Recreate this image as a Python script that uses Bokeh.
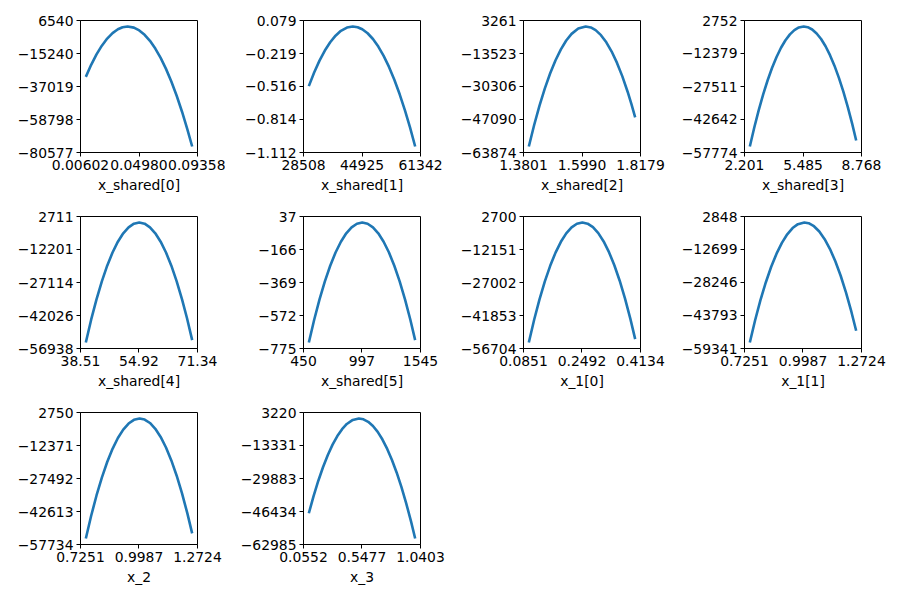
from bokeh.plotting import figure
from bokeh.models import Range1d, FixedTicker
from bokeh.layouts import column, row
from bokeh.embed import file_html
from bokeh.resources import INLINE

M = "\u2212"

axis_titles = ["x_shared[0]", "x_shared[1]", "x_shared[2]", "x_shared[3]",
               "x_shared[4]", "x_shared[5]", "x_1[0]", "x_1[1]", "x_2", "x_3"]

xtick_labels = [
    ["0.00602", "0.04980", "0.09358"],
    ["28508", "44925", "61342"],
    ["1.3801", "1.5990", "1.8179"],
    ["2.201", "5.485", "8.768"],
    ["38.51", "54.92", "71.34"],
    ["450", "997", "1545"],
    ["0.0851", "0.2492", "0.4134"],
    ["0.7251", "0.9987", "1.2724"],
    ["0.7251", "0.9987", "1.2724"],
    ["0.0552", "0.5477", "1.0403"],
]

ytick_labels = [
    ["6540", M + "15240", M + "37019", M + "58798", M + "80577"],
    ["0.079", M + "0.219", M + "0.516", M + "0.814", M + "1.112"],
    ["3261", M + "13523", M + "30306", M + "47090", M + "63874"],
    ["2752", M + "12379", M + "27511", M + "42642", M + "57774"],
    ["2711", M + "12201", M + "27114", M + "42026", M + "56938"],
    ["37", M + "166", M + "369", M + "572", M + "775"],
    ["2700", M + "12151", M + "27002", M + "41853", M + "56704"],
    ["2848", M + "12699", M + "28246", M + "43793", M + "59341"],
    ["2750", M + "12371", M + "27492", M + "42613", M + "57734"],
    ["3220", M + "13331", M + "29883", M + "46434", M + "62985"],
]

x_shared0 = [0.010, 0.014, 0.018, 0.022, 0.026, 0.030, 0.034, 0.0375, 0.0413, 0.046, 0.050,
             0.054, 0.058, 0.062, 0.066, 0.070, 0.074, 0.078, 0.082, 0.086, 0.0896]
y_shared0 = [-30681, -22723, -15851, -10066, -5368, -1755, 771, 2090, 2580, 1830, 10,
             -2896, -6888, -11968, -18133, -25385, -33723, -43147, -53658, -65256, -76617]

x_shared1 = [30000, 31500, 33000, 34500, 36000, 37500, 39000, 40700, 42341, 43700, 45000,
             46500, 48000, 49500, 51000, 52500, 54000, 55500, 57000, 58400, 59850]
y_shared1 = [-0.513, -0.390, -0.283, -0.192, -0.117, -0.058, -0.014, 0.0155, 0.025, 0.0185, 0.000,
             -0.036, -0.088, -0.156, -0.240, -0.340, -0.455, -0.587, -0.734, -0.886, -1.058]

x_shared2 = [1.400, 1.420, 1.440, 1.460, 1.480, 1.500, 1.520, 1.540, 1.560, 1.585, 1.6128,
             1.632, 1.650, 1.670, 1.690, 1.710, 1.730, 1.750, 1.770, 1.784, 1.798]
y_shared2 = [-60823, -49890, -40035, -31259, -23560, -16939, -11397, -6933, -3547, -832, 210,
             -287, -1655, -4200, -7823, -12524, -18303, -25161, -33097, -39293, -46018]

x_shared3 = [2.5, 2.75, 3.0, 3.25, 3.5, 3.75, 4.0, 4.25, 4.5, 4.75, 5.0, 5.25, 5.523,
             5.75, 6.0, 6.25, 6.5, 6.75, 7.0, 7.25, 7.5, 7.75, 8.0, 8.25, 8.47]
y_shared3 = [-55023, -46302, -38329, -31110, -24643, -18928, -13967, -9758, -6302, -3598, -1647, -449, 0,
             -310, -1370, -3182, -5748, -9065, -13136, -17959, -23535, -29863, -36944, -44778, -52295]

x_shared4 = [40, 41.5, 43, 44.5, 46, 47.5, 49, 50.5, 52, 53.5, 55,
             56.5, 58, 59.5, 61, 62.5, 64, 65.5, 67, 68.4, 69.85]
y_shared4 = [-54227, -43922, -34704, -26570, -19521, -13556, -8676, -4880, -2169, -542, 0,
             -542, -2169, -4880, -8676, -13556, -19521, -26570, -34704, -43274, -53146]

x_shared5 = [500, 550, 600, 650, 700, 750, 800, 850, 900, 950, 1000,
             1050, 1100, 1150, 1200, 1250, 1300, 1350, 1400, 1450, 1495]
y_shared5 = [-738.1, -597.9, -472.4, -361.7, -265.7, -184.5, -118.1, -66.4, -29.5, -7.4, 0,
             -7.4, -29.5, -66.4, -118.1, -184.5, -265.7, -361.7, -472.4, -597.9, -723.4]

x_1_0 = [0.100, 0.115, 0.130, 0.145, 0.160, 0.175, 0.190, 0.205, 0.220, 0.235, 0.2503,
         0.265, 0.280, 0.295, 0.310, 0.325, 0.340, 0.355, 0.370, 0.385, 0.3985]
y_1_0 = [-54004, -43757, -34592, -26504, -19491, -13553, -8691, -4905, -2195, -560, 0,
         -517, -2108, -4776, -8519, -13338, -19232, -26203, -34248, -43370, -52499]

x_1_1 = [0.75, 0.775, 0.80, 0.825, 0.85, 0.875, 0.90, 0.925, 0.95, 0.975, 1.005,
         1.025, 1.05, 1.075, 1.10, 1.125, 1.15, 1.175, 1.20, 1.225, 1.2475]
y_1_1 = [-56514, -45911, -36468, -28111, -20839, -14653, -9552, -5536, -2606, -760, 21,
         -326, -1737, -4234, -7815, -12482, -18234, -25072, -32995, -42003, -50965]

x_2 = [0.75, 0.775, 0.80, 0.825, 0.85, 0.875, 0.90, 0.925, 0.95, 0.975, 1.0014,
       1.025, 1.05, 1.075, 1.10, 1.125, 1.15, 1.175, 1.20, 1.225, 1.2475]
y_2 = [-54985, -44579, -35277, -27063, -19936, -13895, -8942, -5076, -2298, -606, 0,
       -484, -2054, -4711, -8455, -13287, -19205, -26210, -34303, -43483, -52653]

x_3 = [0.10, 0.14, 0.18, 0.22, 0.26, 0.30, 0.34, 0.38, 0.42, 0.47, 0.5214,
       0.56, 0.60, 0.64, 0.68, 0.72, 0.76, 0.80, 0.84, 0.88, 0.92, 0.96, 0.9955]
y_3 = [-47321, -38734, -30993, -24110, -18083, -12912, -8599, -5142, -2542, -496, 211,
       -188, -1443, -3555, -6523, -10349, -15031, -20570, -26965, -34217, -42325, -51291, -59976]

curves_x = [x_shared0, x_shared1, x_shared2, x_shared3, x_shared4, x_shared5, x_1_0, x_1_1, x_2, x_3]
curves_y = [y_shared0, y_shared1, y_shared2, y_shared3, y_shared4, y_shared5, y_1_0, y_1_1, y_2, y_3]

FONT = "DejaVu Sans"
FS = "13.9px"
CELL_W, CELL_H = 225, 196
FRAME_W, FRAME_H = 117, 132
LEFTS = [80, 78, 73, 69]
TOP = 20


def num(s):
    return float(s.replace(M, "-"))


def make_panel(i):
    col = i % 4
    xt = [num(s) for s in xtick_labels[i]]
    yt = [num(s) for s in ytick_labels[i]]
    left = LEFTS[col]
    p = figure(width=CELL_W, height=CELL_H, output_backend="svg", toolbar_location=None,
               x_range=Range1d(xt[0], xt[-1]), y_range=Range1d(yt[-1], yt[0]),
               min_border_left=left, min_border_right=CELL_W - left - FRAME_W,
               min_border_top=TOP, min_border_bottom=CELL_H - TOP - FRAME_H)
    p.line(curves_x[i], curves_y[i], line_color="#1f77b4", line_width=2.6,
           line_join="round", line_cap="butt")
    p.xgrid.visible = False
    p.ygrid.visible = False
    p.outline_line_color = "black"
    p.outline_line_width = 1
    p.outline_line_alpha = 1
    p.xaxis.ticker = FixedTicker(ticks=xt)
    p.yaxis.ticker = FixedTicker(ticks=yt)
    p.xaxis.major_label_overrides = {v: s for v, s in zip(xt, xtick_labels[i])}
    p.yaxis.major_label_overrides = {v: s for v, s in zip(yt, ytick_labels[i])}
    p.xaxis.axis_label = axis_titles[i]
    for ax in (p.xaxis, p.yaxis):
        ax.major_label_text_font = FONT
        ax.major_label_text_font_size = FS
        ax.major_label_text_color = "black"
        ax.axis_label_text_font = FONT
        ax.axis_label_text_font_size = FS
        ax.axis_label_text_font_style = "normal"
        ax.axis_label_text_color = "black"
        ax.axis_line_color = "black"
        ax.major_tick_line_color = "black"
        ax.major_tick_out = 4
        ax.major_tick_in = 0
        ax.minor_tick_line_color = None
        ax.major_label_standoff = 3
    p.xaxis.axis_label_standoff = 4
    return p


panels = [make_panel(i) for i in range(len(axis_titles))]
layout = column(row(*panels[0:4]), row(*panels[4:8]), row(*panels[8:10]))

open("out.html", "w").write(file_html(layout, INLINE))
